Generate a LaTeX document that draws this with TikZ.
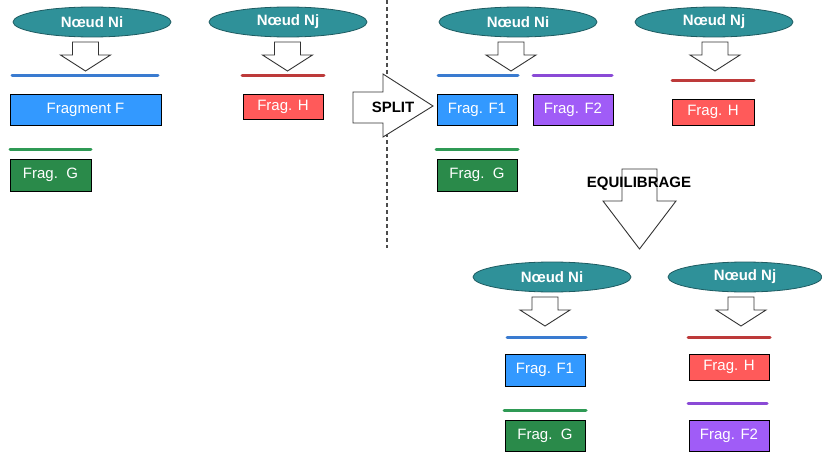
\documentclass[tikz,border=0pt]{standalone}
\usepackage{fontspec}
\setmainfont{Liberation Sans}
\usetikzlibrary{shapes.geometric,shadows}
\definecolor{teal1}{HTML}{2F9199}
\definecolor{teal2}{HTML}{1E5C62}
\definecolor{fblue}{HTML}{3399FF}
\definecolor{fred}{HTML}{FF5A5A}
\definecolor{fgreen}{HTML}{2A8A4A}
\definecolor{fpurple}{HTML}{A05CF7}
\definecolor{lblue}{HTML}{3A7BD0}
\definecolor{lred}{HTML}{BD3A3A}
\definecolor{lgreen}{HTML}{2F9A55}
\definecolor{lpurple}{HTML}{8A4AD6}
\tikzset{
  noeud/.style={ellipse,draw=teal2,line width=0.8pt,fill=teal1,minimum width=158pt,minimum height=30pt,inner sep=0pt,text=white,font=\fontsize{15}{17}\selectfont\bfseries},
  frag/.style={rectangle,draw=black,line width=1pt,minimum height=31pt,minimum width=80pt,inner sep=0pt,text=white,font=\fontsize{15}{17}\selectfont,drop shadow={shadow xshift=1pt,shadow yshift=-1.2pt,opacity=0.35}},
  fragline/.style={line width=3pt,line cap=round},
  blockarrow/.style={draw=black!80,line width=0.9pt,fill=white,line join=miter},
  bigtext/.style={font=\fontsize{15}{17}\selectfont\bfseries,text=black,inner sep=0pt},
  downarr/.pic={\draw[blockarrow] (-13,0) -- (13,0) -- (13,13) -- (25,13) -- (0,29) -- (-25,13) -- (-13,13) -- cycle;}
}
\begin{document}
\begin{tikzpicture}[x=1pt,y=-1pt]
\useasboundingbox (0,0) rectangle (822,452);
% separator
\draw[line width=1.3pt,black!70,dash pattern=on 4pt off 3pt] (387,0) -- (387,248);
% ---------- left panel ----------
\node[noeud] (ni1) at (92,22) {Nœud Ni};
\node[noeud] (nj1) at (288,22) {Nœud Nj};
\pic at (85.5,42) {downarr};
\pic at (287.5,42) {downarr};
\draw[fragline,draw=lblue] (12,76) -- (158,76);
\draw[fragline,draw=lred] (242,76) -- (324,76);
\draw[fragline,draw=lgreen] (10,149) -- (91,149);
\node[frag,fill=fblue,minimum width=151pt] (ff) at (85.5,109.5) {Fragment F};
\node[frag,fill=fgreen,minimum width=81pt,minimum height=32pt] (fg1) at (50.5,175) {Frag.\ \ G};
\node[frag,fill=fred,minimum height=25pt] (fh1) at (283,106.5) {Frag. H};
% SPLIT arrow
\draw[blockarrow] (353,92) -- (383,92) -- (383,74) -- (433,106) -- (383,137) -- (383,123) -- (353,123) -- cycle;
\node[bigtext] (split) at (393,107) {SPLIT};
% ---------- middle panel ----------
\node[noeud] (ni2) at (518,22) {Nœud Ni};
\node[noeud] (nj2) at (714,22) {Nœud Nj};
\pic at (511,42) {downarr};
\pic at (715,42) {downarr};
\draw[fragline,draw=lblue] (438,76) -- (518,76);
\draw[fragline,draw=lpurple] (533,76) -- (612,76);
\draw[fragline,draw=lred] (672,81) -- (754,81);
\draw[fragline,draw=lgreen] (436,149) -- (518,149);
\node[frag,fill=fblue] (ff1a) at (477,109.5) {Frag. F1};
\node[frag,fill=fpurple] (ff2a) at (573,109.5) {Frag. F2};
\node[frag,fill=fgreen,minimum height=32pt] (fg2) at (477,175) {Frag.\ \ G};
\node[frag,fill=fred,minimum width=82pt,minimum height=26pt] (fh2) at (713,112) {Frag. H};
% EQUILIBRAGE arrow
\draw[blockarrow] (622,169) -- (657,169) -- (657,201) -- (676,201) -- (639.5,249) -- (603,201) -- (622,201) -- cycle;
\node[bigtext] (equi) at (639,184) {EQUILIBRAGE};
% ---------- bottom panel ----------
\node[noeud] (ni3) at (552,277) {Nœud Ni};
\node[noeud,minimum width=154pt] (nj3) at (745,277) {Nœud Nj};
\pic at (545,297) {downarr};
\pic at (741,297) {downarr};
\draw[fragline,draw=lblue] (507,337) -- (586,337);
\draw[fragline,draw=lgreen] (504,410) -- (586,410);
\draw[fragline,draw=lred] (688,337) -- (770,337);
\draw[fragline,draw=lpurple] (688,403) -- (767,403);
\node[frag,fill=fblue,minimum height=32pt] (ff1b) at (545,370) {Frag. F1};
\node[frag,fill=fgreen] (fg3) at (545,435.5) {Frag.\ \ G};
\node[frag,fill=fred,minimum height=26pt] (fh3) at (729,367) {Frag. H};
\node[frag,fill=fpurple] (ff2b) at (729,435.5) {Frag. F2};
\end{tikzpicture}
\end{document}
